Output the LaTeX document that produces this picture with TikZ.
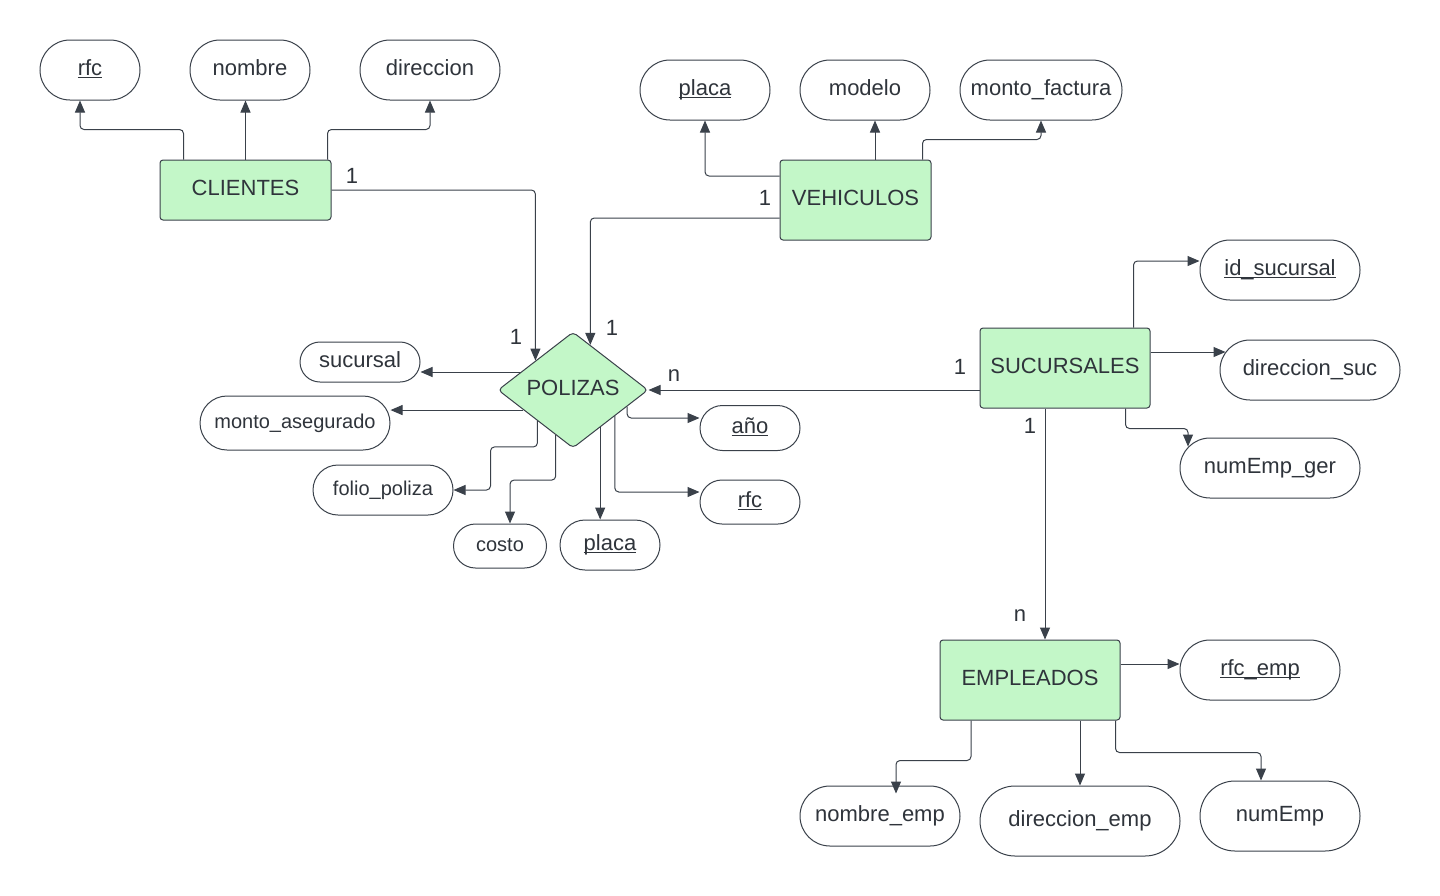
\documentclass[tikz,border=0pt]{standalone}
\usepackage{fontspec}
\setmainfont{Liberation Sans}
\usetikzlibrary{shapes.geometric,shapes.misc,arrows.meta,calc}
\definecolor{entfill}{HTML}{C3F7C8}
\definecolor{linegray}{HTML}{3A414A}
\definecolor{txtgray}{HTML}{2F343B}
\newcommand{\ulin}[1]{\underline{\smash{#1}}}

\begin{document}
\begin{tikzpicture}[x=0.5pt,y=-0.5pt,
  entity/.style={draw=linegray, fill=entfill, rounded corners=1.5pt, line width=0.5pt,
    text=txtgray, font=\fontsize{11}{13}\selectfont, inner sep=0pt,
    text height=7.5pt, text depth=2.5pt},
  attrib/.style={draw=linegray, rounded rectangle, line width=0.5pt, text=txtgray,
    font=\fontsize{11}{13}\selectfont, inner sep=0pt, minimum height=30pt,
    text height=7.5pt, text depth=2.5pt},
  small/.style={font=\fontsize{10}{12}\selectfont},
  rel/.style={draw=linegray, fill=entfill, diamond, rounded corners=2pt, line width=0.5pt,
    text=txtgray, font=\fontsize{11}{13}\selectfont, inner sep=0pt,
    text height=7.5pt, text depth=2.5pt,
    minimum width=75pt, minimum height=58pt},
  conn/.style={draw=linegray, line width=0.5pt, rounded corners=2pt,
    -{Triangle[length=6pt,width=5pt]}},
  card/.style={text=txtgray, font=\fontsize{11}{13}\selectfont, inner sep=0pt}]

\fill[white] (0,0) rectangle (1440,895);
\useasboundingbox (0,0) rectangle (1440,895);

% entidades
\node[entity, minimum width=85.5pt, minimum height=30pt] (cli) at (245.5,190) {CLIENTES};
\node[entity, minimum width=75.5pt, minimum height=40pt] (veh) at (855.5,200) {VEHICULOS};
\node[entity, minimum width=85pt, minimum height=40pt] (suc) at (1065,368) {SUCURSALES};
\node[entity, minimum width=90pt, minimum height=40pt] (emp) at (1030,680) {EMPLEADOS};
\node[rel] (pol) at (573,390) {POLIZAS};

% atributos de clientes
\node[attrib, minimum width=50pt] (rfc) at (90,70) {\ulin{rfc}};
\node[attrib, minimum width=60pt] (nom) at (250,70) {nombre};
\node[attrib, minimum width=70pt] (dir) at (430,70) {direccion};

% atributos de vehiculos
\node[attrib, minimum width=65pt] (pla) at (705,90) {\ulin{placa}};
\node[attrib, minimum width=65pt] (mod) at (865,90) {modelo};
\node[attrib, minimum width=81pt] (mfa) at (1041,90) {monto\_factura};

% atributos de sucursales
\node[attrib, minimum width=80pt] (ids) at (1280,270) {\ulin{id\_sucursal}};
\node[attrib, minimum width=90pt] (dsu) at (1310,370) {direccion\_suc};
\node[attrib, minimum width=90pt] (neg) at (1270,468) {numEmp\_ger};

% atributos de empleados
\node[attrib, minimum width=80pt] (rfe) at (1260,670) {\ulin{rfc\_emp}};
\node[attrib, minimum width=80pt] (nem) at (880,816) {nombre\_emp};
\node[attrib, minimum width=100pt, minimum height=35pt] (dem) at (1080,821) {direccion\_emp};
\node[attrib, minimum width=80pt, minimum height=35pt] (nue) at (1280,816) {numEmp};

% atributos de polizas
\node[attrib, minimum width=60pt, minimum height=20pt] (psu) at (360,362) {sucursal};
\node[attrib, small, minimum width=95pt, minimum height=27pt] (pma) at (295,423) {monto\_asegurado};
\node[attrib, small, minimum width=70pt, minimum height=25pt] (pfo) at (383,490) {folio\_poliza};
\node[attrib, small, minimum width=46.5pt, minimum height=22pt] (pco) at (500,546) {costo};
\node[attrib, minimum width=50pt, minimum height=25pt] (ppl) at (610,545) {\ulin{placa}};
\node[attrib, minimum width=50pt, minimum height=22.5pt] (pan) at (750,428) {\ulin{año}};
\node[attrib, minimum width=50pt, minimum height=22pt] (prf) at (750,502) {\ulin{rfc}};

% conectores de atributos
\draw[conn] ($(cli.north west)+(24,0)$) -- ++(0,-30) -| ($(rfc.south)+(-10,0)$);
\draw[conn] (cli.north) -- (cli.north |- nom.south);
\draw[conn] ($(cli.north east)+(-4,0)$) -- ++(0,-30) -| (dir.south);

\draw[conn] ($(veh.west)+(0,-24)$) -| (pla.south);
\draw[conn] ($(veh.north)+(19.5,0)$) -- ($(mod.south)+(10,0)$);
\draw[conn] ($(veh.north east)+(-9,0)$) -- ++(0,-20) -| (mfa.south);

\draw[conn] ($(suc.north west)+(154,0)$) |- ($(ids.west)+(0,-9)$);
\draw[conn] ($(suc.east)+(0,-16)$) -- ++(75,0);
\draw[conn] ($(suc.south east)+(-25,0)$) -- ++(0,20) -| ($(neg.north)+(-82,9)$);

\draw[conn] ($(emp.east)+(0,-16)$) -- ($(rfe.west)+(0,-6)$);
\draw[conn] ($(emp.south west)+(31.5,0)$) -- ++(0,40) -| ($(nem.north)+(16,8)$);
\draw[conn] ($(emp.south)+(50,0)$) -- (dem.north);
\draw[conn] ($(emp.south east)+(-5,0)$) -- ++(0,32) -| ($(nue.north)+(-19,0)$);

\draw[conn] (pol.161) -- (pol.161 -| psu.east);
\draw[conn] (pol.202.2) -- (pol.202.2 -| pma.east);
\draw[conn] (pol.221.5) -- ++(0,26) -| ($(pfo.east)+(37,0)$) -- (pfo.east);
\draw[conn] (pol.249.3) -- ++(0,45) -| ($(pco.north)+(10,0)$);
\draw[conn] (pol.306.1) -- (pol.306.1 |- ppl.north);
\draw[conn] (pol.343.5) |- ($(pan.west)+(0,-10)$);
\draw[conn] (pol.328.7) |- ($(prf.west)+(0,-10)$);

% relaciones
\draw[conn] (cli.east) -| (pol.142.7);
\draw[conn] ($(veh.west)+(0,18)$) -| (pol.69.3);
\draw[conn] (suc.west |- pol.east) -- (pol.east);
\draw[conn] ($(suc.south)+(-20,0)$) -- ($(emp.north)+(15,0)$);

% cardinalidades
\node[card] (k1) at (352,176) {1};
\node[card] (k2) at (516,337) {1};
\node[card] (k3) at (765,198) {1};
\node[card] (k4) at (612,328) {1};
\node[card] (k5) at (674,376) {n};
\node[card] (k6) at (960,367) {1};
\node[card] (k7) at (1030,426) {1};
\node[card] (k8) at (1020,616) {n};
\end{tikzpicture}
\end{document}
